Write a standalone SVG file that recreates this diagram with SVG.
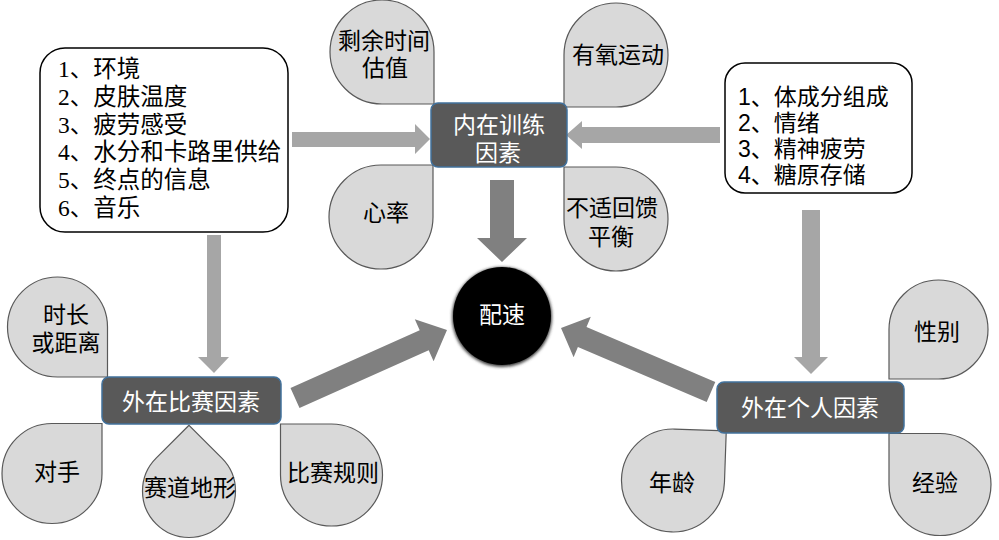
<svg xmlns="http://www.w3.org/2000/svg" xmlns:xlink="http://www.w3.org/1999/xlink" width="999" height="540" viewBox="0 0 999 540">
<style>
.td{fill:#d9d9d9;stroke:#595959;stroke-width:1.2;vector-effect:non-scaling-stroke}
.t{font-family:"Liberation Sans","Noto Sans CJK SC",sans-serif;font-size:23px;fill:#000;text-anchor:middle;dominant-baseline:central}
.w{fill:#fff}
.box{fill:#595959;stroke:#41719c;stroke-width:1.5}
.lst{fill:#fff;stroke:#000;stroke-width:1.5}
.l1{font-family:"Liberation Serif","Noto Sans CJK SC",serif;font-size:23.5px;fill:#000;dominant-baseline:central}
.l2{font-family:"Liberation Sans","Noto Sans CJK SC",sans-serif;font-size:23px;fill:#000;dominant-baseline:central}
.a1{fill:#a6a6a6}
.a2{fill:#808080}
</style>
<defs>
<path id="tdp" class="td" d="M50,50 L50,0 A50,50 0 0 0 0,-50 A50,50 0 0 0 -50,0 A50,50 0 0 0 0,50 Z"/>
<filter id="sh" x="-20%" y="-20%" width="140%" height="140%"><feGaussianBlur stdDeviation="1.5"/></filter>
</defs>
<g id="connectors">
<polygon class="a1" points="292,132 415,132 415,124 430,139 415,154 415,147 292,147"/>
<polygon class="a1" points="720,127 582,127 582,121 566,135 582,149 582,143 720,143"/>
<polygon class="a2" points="490,180 514,180 514,238 527,238 502,262 477,238 490,238"/>
<polygon class="a1" points="207,235 221,235 221,357 229,357 214,373 198,357 207,357"/>
<polygon class="a1" points="802,210 820,210 820,357 828,357 811,374 794,357 802,357"/>
<polygon class="a2" points="290.5,388 419.7,330.2 414.8,319.2 447,330 433.6,361.2 428.7,350.2 299.5,408"/>
<polygon class="a2" points="715.3,381.9 586.5,326.9 590.8,316.8 561,328 573.6,357.2 577.9,347.1 706.7,402.1"/>
</g>
<g id="list-left">
<rect class="lst" x="40" y="48" width="248" height="184" rx="25"/>
<text class="l1" x="58" y="69">1、环境</text>
<text class="l1" x="58" y="97">2、皮肤温度</text>
<text class="l1" x="58" y="125">3、疲劳感受</text>
<text class="l1" x="58" y="152">4、水分和卡路里供给</text>
<text class="l1" x="58" y="180">5、终点的信息</text>
<text class="l1" x="58" y="208">6、音乐</text>
</g>
<g id="list-right">
<rect class="lst" x="725" y="63" width="187" height="130" rx="20"/>
<text class="l2" x="738" y="97">1、体成分组成</text>
<text class="l2" x="738" y="123">2、情绪</text>
<text class="l2" x="738" y="149">3、精神疲劳</text>
<text class="l2" x="738" y="175">4、糖原存储</text>
</g>
<g id="n-remain"><use xlink:href="#tdp" transform="translate(382,52) scale(1.04)"/><text class="t" x="384" y="41">剩余时间</text><text class="t" x="385" y="68">估值</text></g>
<g id="n-aerobic"><use xlink:href="#tdp" transform="translate(616,55) rotate(90) scale(1.04)"/><text class="t" x="618" y="55">有氧运动</text></g>
<g id="n-heart"><use xlink:href="#tdp" transform="translate(381,217) rotate(-90) scale(1.04)"/><text class="t" x="386" y="213">心率</text></g>
<g id="n-discomfort"><use xlink:href="#tdp" transform="translate(616,219) rotate(180) scale(1.04)"/><text class="t" x="612" y="208">不适回馈</text><text class="t" x="611" y="237">平衡</text></g>
<g id="n-internal"><rect class="box" x="431" y="103" width="136" height="64" rx="7"/><text class="t w" x="499" y="125">内在训练</text><text class="t w" x="498" y="153">因素</text></g>
<g id="n-pace"><circle cx="502" cy="317" r="50" fill="#444" filter="url(#sh)"/><circle cx="502" cy="316" r="49" fill="#000"/><text class="t w" x="502" y="315">配速</text></g>
<g id="n-duration"><use xlink:href="#tdp" transform="translate(57.5,327) scale(1.0)"/><text class="t" x="66" y="315">时长</text><text class="t" x="66" y="343">或距离</text></g>
<g id="n-opponent"><use xlink:href="#tdp" transform="translate(52,473.5) rotate(-90) scale(1.0)"/><text class="t" x="57" y="472">对手</text></g>
<g id="n-terrain"><use xlink:href="#tdp" transform="translate(189,491) rotate(-135) scale(0.93)"/><text class="t" x="190" y="488">赛道地形</text></g>
<g id="n-rules"><use xlink:href="#tdp" transform="translate(331.5,475) rotate(180) scale(1.02)"/><text class="t" x="333" y="473">比赛规则</text></g>
<g id="n-race"><rect class="box" x="102" y="377" width="179" height="47" rx="7"/><text class="t w" x="191" y="402">外在比赛因素</text></g>
<g id="n-gender"><use xlink:href="#tdp" transform="translate(938.5,329.5) rotate(90) scale(0.99)"/><text class="t" x="937" y="332">性别</text></g>
<g id="n-age"><use xlink:href="#tdp" transform="translate(673,480.5) rotate(-88) scale(1.03)"/><text class="t" x="672" y="483">年龄</text></g>
<g id="n-experience"><use xlink:href="#tdp" transform="translate(940,484.5) rotate(180) scale(1.02)"/><text class="t" x="935" y="483">经验</text></g>
<g id="n-personal"><rect class="box" x="717" y="382" width="187" height="51" rx="7"/><text class="t w" x="810" y="408">外在个人因素</text></g>
</svg>
